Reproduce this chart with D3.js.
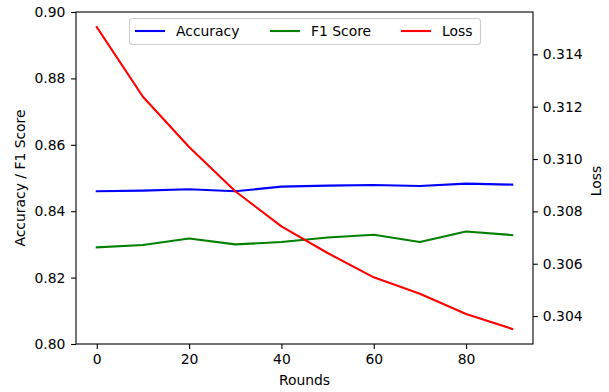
<!DOCTYPE html>
<html>
<head>
<meta charset="utf-8">
<script src="https://cdn.jsdelivr.net/npm/d3@7"></script>
<style>
  body { margin: 0; background: #fff; }
  text { font-family: "DejaVu Sans", sans-serif; }
</style>
</head>
<body>
<div id="chart"></div>
<script>
// values
var rounds = [0, 10, 20, 30, 40, 50, 60, 70, 80, 90]
var accuracy = [0.8460, 0.8462, 0.8466, 0.8460, 0.8474, 0.8477, 0.8479, 0.8476, 0.8483, 0.8480]
var f1Score = [0.8291, 0.8298, 0.8318, 0.8300, 0.8307, 0.8321, 0.8329, 0.8307, 0.8339, 0.8328]
var loss = [0.31504, 0.31238, 0.31046, 0.30877, 0.30743, 0.30641, 0.30548, 0.30485, 0.30408, 0.30351]

var xTicks = [0, 20, 40, 60, 80]
var leftTicks = [0.80, 0.82, 0.84, 0.86, 0.88, 0.90]
var rightTicks = [0.304, 0.306, 0.308, 0.310, 0.312, 0.314]

var w = 609, h = 392
// note: "top" is taken by window.top, so prefix everything
var plotL = 76, plotR = 533, plotT = 12, plotB = 344
var fs = 13.9
var tick = 4.9

var svg = d3.select("#chart").append("svg")
  .attr("width", w)
  .attr("height", h)

var x = d3.scaleLinear().domain([-4.5, 94.5]).range([plotL, plotR])
var yL = d3.scaleLinear().domain([0.80, 0.90]).range([plotB, plotT])
var lmin = d3.min(loss), lmax = d3.max(loss), pad = (lmax - lmin) * 0.05
var yR = d3.scaleLinear().domain([lmin - pad, lmax + pad]).range([plotB, plotT])

var series = [
  {name: "Accuracy", values: accuracy, color: "#0000ff", scale: yL},
  {name: "F1 Score", values: f1Score, color: "#008000", scale: yL},
  {name: "Loss", values: loss, color: "#ff0000", scale: yR}
]

series.forEach(function(s) {
  var line = d3.line()
    .x(function(d, i) { return x(rounds[i]) })
    .y(function(d) { return s.scale(d) })
  svg.append("path")
    .attr("d", line(s.values))
    .attr("fill", "none")
    .attr("stroke", s.color)
    .attr("stroke-width", 2.1)
    .attr("stroke-linejoin", "round")
    .attr("stroke-linecap", "square")
})

// axes
svg.append("g")
  .attr("transform", "translate(0," + plotB + ")")
  .call(d3.axisBottom(x).tickValues(xTicks).tickSize(tick).tickPadding(4.9).tickFormat(d3.format("d")))
svg.append("g")
  .attr("transform", "translate(" + plotL + ",0)")
  .call(d3.axisLeft(yL).tickValues(leftTicks).tickSize(tick).tickPadding(5.8).tickFormat(d3.format(".2f")))
svg.append("g")
  .attr("transform", "translate(" + plotR + ",0)")
  .call(d3.axisRight(yR).tickValues(rightTicks).tickSize(tick).tickPadding(4.9).tickFormat(d3.format(".3f")))

svg.selectAll(".domain").remove()
svg.selectAll(".tick line").attr("stroke", "#000").attr("stroke-width", 1.1)
svg.selectAll(".tick text")
  .attr("font-size", fs)
  .attr("font-family", "DejaVu Sans")
  .attr("fill", "#000")

// frame
svg.append("rect")
  .attr("x", plotL).attr("y", plotT)
  .attr("width", plotR - plotL).attr("height", plotB - plotT)
  .attr("fill", "none")
  .attr("stroke", "#000")
  .attr("stroke-width", 1.1)

// labels
svg.append("text")
  .attr("x", (plotL + plotR) / 2).attr("y", 385)
  .attr("text-anchor", "middle")
  .attr("font-size", fs)
  .text("Rounds")
svg.append("text")
  .attr("transform", "translate(25," + (plotT + plotB) / 2 + ") rotate(-90)")
  .attr("text-anchor", "middle")
  .attr("font-size", fs)
  .text("Accuracy / F1 Score")
svg.append("text")
  .attr("transform", "translate(601," + ((plotT + plotB) / 2 + 3) + ") rotate(-90)")
  .attr("text-anchor", "middle")
  .attr("font-size", fs)
  .text("Loss")

// legend
var legend = svg.append("g")
legend.append("rect")
  .attr("x", 129.5).attr("y", 18.5)
  .attr("width", 351).attr("height", 26)
  .attr("rx", 3)
  .attr("fill", "#fff").attr("fill-opacity", 0.8)
  .attr("stroke", "#cccccc")
  .attr("stroke-width", 1.1)

var lx = [135, 270, 401]
series.forEach(function(s, i) {
  legend.append("line")
    .attr("x1", lx[i]).attr("x2", lx[i] + 30)
    .attr("y1", 31).attr("y2", 31)
    .attr("stroke", s.color)
    .attr("stroke-width", 2.1)
  legend.append("text")
    .attr("x", lx[i] + 41).attr("y", 36)
    .attr("font-size", fs)
    .text(s.name)
})
</script>
</body>
</html>
